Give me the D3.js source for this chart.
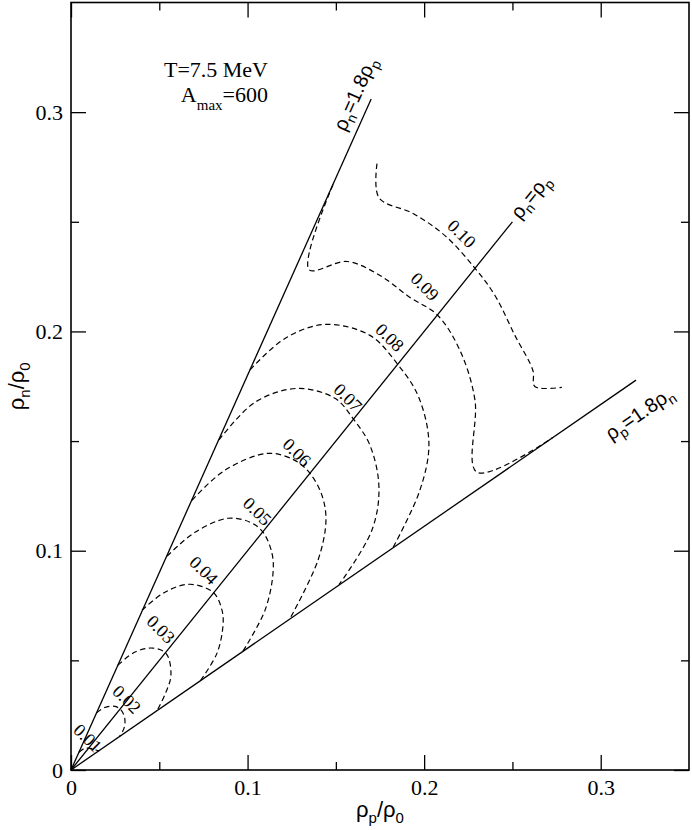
<!DOCTYPE html>
<html>
  <head>
    <title>Contours T=7.5 MeV</title>
    <script src="https://d3js.org/d3.v7.min.js"></script>
    <style>
      body { margin: 0; background: #fff; }
    </style>
  </head>
  <body>
    <div id="chart"></div>

    <script>
      // contour levels and their traced points [rho_p/rho_0, rho_n/rho_0]
      const levels = ["0.01", "0.02", "0.03", "0.04", "0.05", "0.06", "0.07", "0.08", "0.09", "0.10"];

      const c01 = [[0.0045, 0.0081], [0.0075, 0.0098], [0.0100, 0.0100], [0.0130, 0.0095], [0.0155, 0.0088], [0.0162, 0.0090]];
      const c02 = [[0.0145, 0.0261], [0.0190, 0.0285], [0.0250, 0.0290], [0.0285, 0.0272], [0.0305, 0.0232], [0.0300, 0.0190], [0.0275, 0.0153]];
      const c03 = [[0.0266, 0.0478], [0.0362, 0.0538], [0.0464, 0.0556], [0.0540, 0.0530], [0.0566, 0.0433], [0.0538, 0.0355], [0.0490, 0.0275]];
      const c04 = [[0.0402, 0.0729], [0.0532, 0.0811], [0.0674, 0.0847], [0.0808, 0.0808], [0.0855, 0.0729], [0.0861, 0.0661], [0.0827, 0.0533], [0.0735, 0.0410]];
      const c05 = [[0.0544, 0.0975], [0.0702, 0.1084], [0.0889, 0.1148], [0.1014, 0.1130], [0.1087, 0.1085], [0.1138, 0.0989], [0.1144, 0.0897], [0.1099, 0.0729], [0.0974, 0.0542]];
      const c06 = [[0.0685, 0.1230], [0.0872, 0.1367], [0.1116, 0.1444], [0.1268, 0.1412], [0.1353, 0.1353], [0.1421, 0.1253], [0.1444, 0.1139], [0.1399, 0.0957], [0.1240, 0.0690]];
      const c07 = [[0.0838, 0.1505], [0.1042, 0.1677], [0.1280, 0.1740], [0.1495, 0.1695], [0.1600, 0.1600], [0.1693, 0.1481], [0.1744, 0.1289], [0.1704, 0.1093], [0.1518, 0.0845]];
      const c08 = [[0.1014, 0.1825], [0.1212, 0.1968], [0.1438, 0.2032], [0.1693, 0.1982], [0.1850, 0.1850], [0.1965, 0.1708], [0.2027, 0.1490], [0.1976, 0.1276], [0.1823, 0.1013]];
      const c09 = [[0.1484, 0.2670], [0.1348, 0.2282], [0.1563, 0.2319], [0.1750, 0.2255], [0.1920, 0.2155], [0.2075, 0.2075], [0.2203, 0.1913], [0.2288, 0.1686], [0.2299, 0.1358], [0.2729, 0.1516]];
      const c10 = [[0.1733, 0.2765], [0.1744, 0.2610], [0.1937, 0.2538], [0.2118, 0.2437], [0.2288, 0.2288], [0.2401, 0.2164], [0.2514, 0.1982], [0.2616, 0.1822], [0.2627, 0.1749], [0.2780, 0.1745]];
      const contours = [c01, c02, c03, c04, c05, c06, c07, c08, c09, c10];

      // where each level label sits
      const labelX = [0.0096, 0.0317, 0.0510, 0.0753, 0.1056, 0.1280, 0.1569, 0.1806, 0.2005, 0.2214];
      const labelY = [0.0146, 0.0323, 0.0642, 0.0911, 0.1180, 0.1449, 0.1699, 0.1973, 0.2205, 0.2446];

      // reference lines rho_n = slope * rho_p, drawn up to endX
      const refSlopes = [1.8, 1, 1 / 1.8];
      const refEndX = [0.17, 0.25, 0.32];

      const xTicks = [0, 0.1, 0.2, 0.3];
      const yTicks = [0, 0.1, 0.2, 0.3];
      const minorTicks = [0.05, 0.15, 0.25];

      const width = 692, height = 830;
      const mLeft = 71, mRight = 689, mTop = 2.5, mBottom = 770;
      const SERIF = "'Liberation Serif', 'Times New Roman', 'DejaVu Serif', serif";
      const SANS = "'Liberation Sans', Arial, Helvetica, sans-serif";

      const svg = d3.select("#chart").append("svg").attr("width", width).attr("height", height);

      const x = d3.scaleLinear().domain([0, 0.35]).range([mLeft, mRight]);
      const y = d3.scaleLinear().domain([0, 0.35]).range([mBottom, mTop]);
      const fmt = d => d === 0 ? "0" : d3.format(".1f")(d);

      // axes, ticks inside on all four sides
      svg.append("g").attr("transform", `translate(0,${mBottom})`)
        .call(d3.axisBottom(x).tickValues(xTicks).tickFormat(fmt).tickSize(-15).tickPadding(9));
      svg.append("g").attr("transform", `translate(0,${mBottom})`)
        .call(d3.axisBottom(x).tickValues(minorTicks).tickFormat("").tickSize(-8));
      svg.append("g").attr("transform", `translate(0,${mTop})`)
        .call(d3.axisTop(x).tickValues(xTicks).tickFormat("").tickSize(-15));
      svg.append("g").attr("transform", `translate(0,${mTop})`)
        .call(d3.axisTop(x).tickValues(minorTicks).tickFormat("").tickSize(-8));

      svg.append("g").attr("transform", `translate(${mLeft},0)`)
        .call(d3.axisLeft(y).tickValues(yTicks).tickFormat(fmt).tickSize(-15).tickPadding(8));
      svg.append("g").attr("transform", `translate(${mLeft},0)`)
        .call(d3.axisLeft(y).tickValues(minorTicks).tickFormat("").tickSize(-8));
      svg.append("g").attr("transform", `translate(${mRight},0)`)
        .call(d3.axisRight(y).tickValues(yTicks).tickFormat("").tickSize(-15));
      svg.append("g").attr("transform", `translate(${mRight},0)`)
        .call(d3.axisRight(y).tickValues(minorTicks).tickFormat("").tickSize(-8));

      svg.selectAll(".domain").remove();
      svg.selectAll(".tick line").attr("stroke", "#000").attr("stroke-width", 1.3);
      svg.selectAll(".tick text")
        .style("font-family", SERIF)
        .style("font-size", "22px")
        .attr("fill", "#000");

      svg.append("rect")
        .attr("x", mLeft).attr("y", mTop)
        .attr("width", mRight - mLeft).attr("height", mBottom - mTop)
        .attr("fill", "none").attr("stroke", "#000").attr("stroke-width", 1.6);

      // reference lines
      svg.selectAll(".ref")
        .data(refSlopes)
        .enter()
        .append("line")
        .attr("class", "ref")
        .attr("x1", x(0)).attr("y1", y(0))
        .attr("x2", (d, i) => x(refEndX[i]))
        .attr("y2", (d, i) => y(refEndX[i] * d))
        .attr("stroke", "#000")
        .attr("stroke-width", 1.3);

      // dashed contours
      const line = d3.line()
        .x(d => x(d[0]))
        .y(d => y(d[1]))
        .curve(d3.curveCatmullRom.alpha(0.5));

      svg.selectAll(".contour")
        .data(contours)
        .enter()
        .append("path")
        .attr("class", "contour")
        .attr("d", line)
        .attr("fill", "none")
        .attr("stroke", "#000")
        .attr("stroke-width", 1.2)
        .attr("stroke-dasharray", "5.5,3.5");

      svg.selectAll(".clabel")
        .data(levels)
        .enter()
        .append("text")
        .attr("class", "clabel")
        .attr("transform", (d, i) => `translate(${x(labelX[i])},${y(labelY[i])}) rotate(45)`)
        .attr("text-anchor", "middle")
        .attr("dy", "0.35em")
        .style("font-family", SERIF)
        .style("font-size", "18px")
        .text(d => d);

      // labels of the reference lines: [main, sub, middle, main, sub]
      const refText = [
        ["ρ", "n", "=1.8", "ρ", "p"],
        ["ρ", "n", "=", "ρ", "p"],
        ["ρ", "p", "=1.8", "ρ", "n"]
      ];
      const refPlace = [
        { dx: -2, dy: -10, anchor: "middle" },
        { dx: 6, dy: 5, anchor: "start" },
        { dx: -16, dy: 36, anchor: "middle" }
      ];

      refSlopes.forEach((s, i) => {
        const ex = x(refEndX[i]), ey = y(refEndX[i] * s);
        const ang = Math.atan2(ey - y(0), ex - x(0)) * 180 / Math.PI;
        const t = svg.append("text")
          .style("font-family", SANS)
          .attr("transform", `translate(${ex},${ey}) rotate(${ang})`)
          .attr("x", refPlace[i].dx)
          .attr("y", refPlace[i].dy)
          .attr("text-anchor", refPlace[i].anchor)
          .style("font-size", "20px");
        const p = refText[i];
        t.append("tspan").text(p[0]);
        t.append("tspan").attr("dy", 5).style("font-size", "14px").text(p[1]);
        t.append("tspan").attr("dy", -5).text(p[2]);
        t.append("tspan").text(p[3]);
        t.append("tspan").attr("dy", 5).style("font-size", "14px").text(p[4]);
      });

      // axis titles
      const xt = svg.append("text").style("font-family", SANS)
        .attr("x", (mLeft + mRight) / 2).attr("y", 817)
        .attr("text-anchor", "middle").style("font-size", "22px");
      xt.append("tspan").text("ρ");
      xt.append("tspan").attr("dy", 6).style("font-size", "15px").text("p");
      xt.append("tspan").attr("dy", -6).text("/ρ");
      xt.append("tspan").attr("dy", 6).style("font-size", "15px").text("0");

      const yt = svg.append("text").style("font-family", SANS)
        .attr("transform", `translate(24,${(mTop + mBottom) / 2}) rotate(-90)`)
        .attr("text-anchor", "middle").style("font-size", "22px");
      yt.append("tspan").text("ρ");
      yt.append("tspan").attr("dy", 6).style("font-size", "15px").text("n");
      yt.append("tspan").attr("dy", -6).text("/ρ");
      yt.append("tspan").attr("dy", 6).style("font-size", "15px").text("0");

      // annotation
      svg.append("text").style("font-family", SERIF)
        .attr("x", 268).attr("y", 77)
        .attr("text-anchor", "end").style("font-size", "22px")
        .text("T=7.5 MeV");
      const am = svg.append("text").style("font-family", SERIF)
        .attr("x", 268).attr("y", 102)
        .attr("text-anchor", "end").style("font-size", "22px");
      am.append("tspan").text("A");
      am.append("tspan").attr("dy", 8).style("font-size", "15px").text("max");
      am.append("tspan").attr("dy", -8).text("=600");
    </script>
  </body>
</html>
